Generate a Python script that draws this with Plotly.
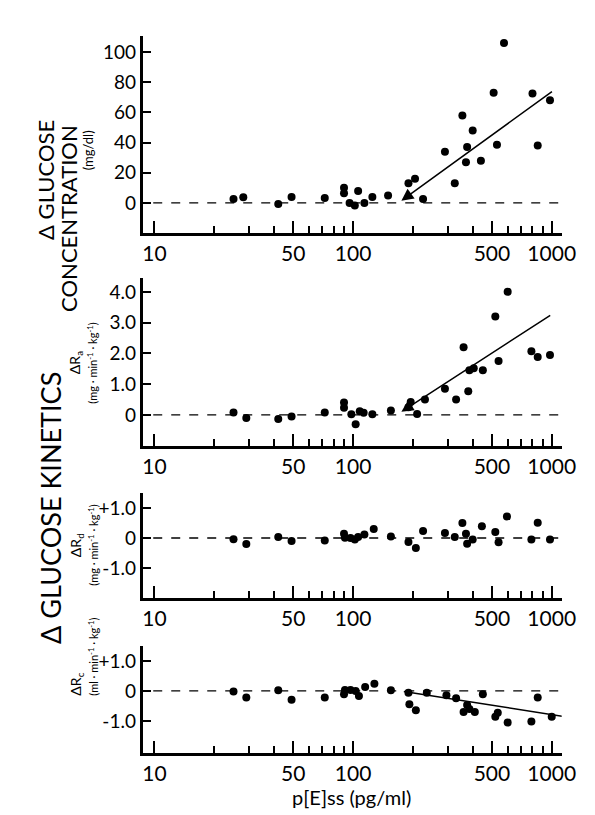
import plotly.graph_objects as go
import math

# Panel 1: delta glucose concentration (mg/dl)
x1 = [25,28,42,49,72,90,90,96,102,106,114,125,150,190,205,225,290,325,355,370,375,400,440,510,530,575,800,850,980]
y1 = [2.6,3.7,-0.7,4,3.3,10,6.5,0,-1.7,8,0,4,5,13,16,2.6,34,13,58,27,37,48,28,73,38.5,106,72.5,38,68]
line1_x = [1020, 175]; line1_y = [74.5, 1.5]

# Panel 2: delta Ra
x2 = [25,29,42,49,72,90,90,98,103,108,113,125,155,190,195,210,230,290,330,360,380,385,405,450,520,540,600,790,850,980]
y2 = [0.08,-0.1,-0.13,-0.05,0.08,0.4,0.23,0.02,-0.3,0.12,0.07,0.02,0.14,0.25,0.42,0.03,0.5,0.85,0.5,2.2,0.77,1.45,1.52,1.45,3.2,1.75,4.0,2.07,1.88,1.95]
line2_x = [1000, 175]; line2_y = [3.27, 0.1]

# Panel 3: delta Rd
x3 = [25,29,42,49,72,90,91,97,102,106,114,127,155,190,207,225,290,325,355,370,375,400,445,520,540,595,790,850,980]
y3 = [-0.04,-0.2,0.03,-0.1,-0.08,0.14,0.01,0,-0.05,0.03,0.12,0.3,0.05,-0.13,-0.33,0.23,0.17,0.03,0.5,0.14,-0.19,-0.05,0.39,0.2,-0.14,0.72,-0.05,0.51,-0.05]

# Panel 4: delta Rc
x4 = [25,29,42,49,72,90,91,97,103,107,115,128,155,190,192,207,235,295,330,360,375,385,410,450,520,535,600,790,850,1000]
y4 = [-0.02,-0.22,0.02,-0.29,-0.22,-0.11,0.03,0.03,0,-0.17,0.13,0.24,0.02,-0.06,-0.44,-0.64,-0.06,-0.14,-0.24,-0.7,-0.47,-0.6,-0.7,-0.11,-0.86,-0.73,-1.05,-1.02,-0.22,-0.86]
line4_x = [180, 1150]; line4_y = [-0.02, -0.85]

xmaj = [10, 50, 100, 500, 1000]
xminor = [20,30,40,60,70,80,90,200,300,400,600,700,800,900]

W, H = 595, 815
def fy(px): return 1 - px / H

panels = [
    dict(top=28, bot=225, yr=[-19.9, 110.6], tv=[0,20,40,60,80,100], tt=["0","20","40","60","80","100"], x=x1, y=y1),
    dict(top=270, bot=438, yr=[-1.01, 4.45], tv=[0,1,2,3,4], tt=["0","1.0","2.0","3.0","4.0"], x=x2, y=y2),
    dict(top=485, bot=590, yr=[-2.0, 1.5], tv=[-1,0,1], tt=["-1.0","0","+1.0"], x=x3, y=y3),
    dict(top=638, bot=745, yr=[-2.07, 1.5], tv=[-1,0,1], tt=["-1.0","0","+1.0"], x=x4, y=y4),
]

fig = go.Figure()
font = "Lato"
layout = {}
for i, p in enumerate(panels):
    n = "" if i == 0 else str(i + 1)
    xa, ya = "x" + n, "y" + n
    fig.add_trace(go.Scatter(x=[8, 1200], y=[0, 0], mode="lines", xaxis=xa, yaxis=ya,
                             line=dict(color="black", width=1.3, dash="dash"), showlegend=False))
    fig.add_trace(go.Scatter(x=p["x"], y=p["y"], mode="markers", xaxis=xa, yaxis=ya,
                             marker=dict(color="black", size=8), showlegend=False))
    layout["xaxis" + n] = dict(type="log", range=[math.log10(10) - 0.059, 3.05], domain=[138 / W, 567 / W],
                               anchor=ya, tickvals=xmaj, ticktext=[str(v) for v in xmaj], ticks="inside",
                               ticklen=12, tickwidth=2, tickcolor="black", showline=True, linecolor="black",
                               linewidth=3, showgrid=False, zeroline=False,
                               tickfont=dict(size=21, color="black", family=font),
                               minor=dict(tickvals=xminor, ticks="inside", ticklen=7, tickwidth=2, tickcolor="black", showgrid=False))
    layout["yaxis" + n] = dict(range=p["yr"], domain=[fy(p["bot"]), fy(p["top"])], anchor=xa,
                               tickvals=p["tv"], ticktext=p["tt"], ticks="inside", ticklen=8, tickwidth=2,
                               tickcolor="black", showline=True, linecolor="black", linewidth=3,
                               showgrid=False, zeroline=False, tickfont=dict(size=19, color="black", family=font))

fig.add_trace(go.Scatter(x=line4_x, y=line4_y, mode="lines", xaxis="x4", yaxis="y4",
                         line=dict(color="black", width=1.5), showlegend=False))

ann = []
for xa, ya, lx, ly in [("x", "y", line1_x, line1_y), ("x2", "y2", line2_x, line2_y)]:
    ann.append(dict(x=math.log10(lx[1]), y=ly[1], ax=math.log10(lx[0]), ay=ly[0], xref=xa, yref=ya,
                    axref=xa, ayref=ya, showarrow=True, arrowhead=2, arrowsize=1.6, arrowwidth=1.5,
                    arrowcolor="black", text=""))

def txt(x, y, s, size, angle=-90):
    ann.append(dict(x=x / W, y=fy(y), xref="paper", yref="paper", text=s, showarrow=False,
                    textangle=angle, font=dict(size=size, color="black", family=font)))

txt(22, 110, "Δ GLUCOSE", 22)
txt(46, 115, "CONCENTRATION", 22)
txt(72, 120, "(mg/dl)", 13)
txt(24, 500, "Δ GLUCOSE KINETICS", 27)
txt(58, 355, "ΔR<sub>a</sub>", 14)
txt(77, 355, "(mg · min<sup>-1</sup> · kg<sup>-1</sup>)", 11)
txt(58, 537, "ΔR<sub>d</sub>", 14)
txt(77, 537, "(mg · min<sup>-1</sup> · kg<sup>-1</sup>)", 11)
txt(58, 690, "ΔR<sub>c</sub>", 14)
txt(77, 690, "(ml · min<sup>-1</sup> · kg<sup>-1</sup>)", 11)
txt(352, 803, "p[E]ss (pg/ml)", 20, 0)

layout["annotations"] = ann
fig.update_layout(**layout, width=W, height=H, margin=dict(l=0, r=0, t=0, b=0),
                  plot_bgcolor="white", paper_bgcolor="white")
fig.write_html("out.html")
